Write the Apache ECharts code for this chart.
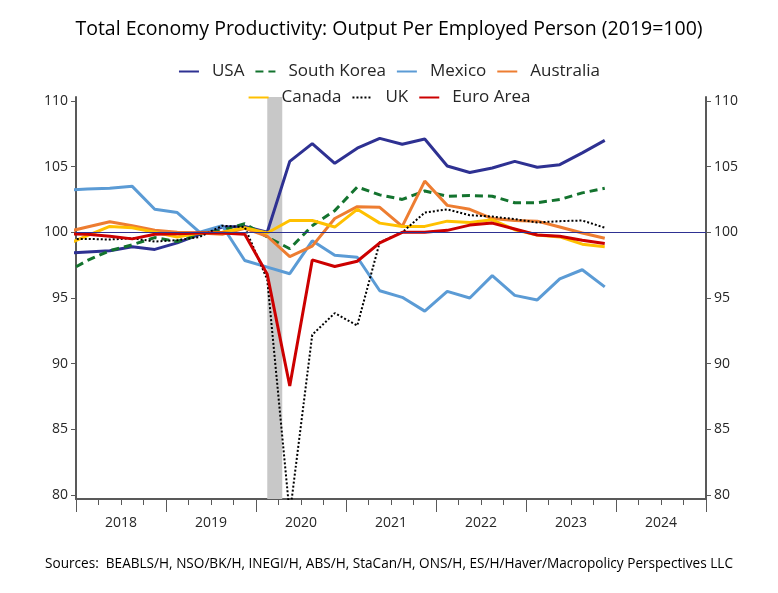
<!DOCTYPE html>
<html>
<head>
<meta charset="utf-8">
<script src="https://cdn.jsdelivr.net/npm/echarts@6/dist/echarts.min.js"></script>
<style>html,body{margin:0;padding:0;background:#fff;}#chart{width:778px;height:593px;}</style>
</head>
<body>
<div id="chart"></div>
<script>
// Quarterly observations (2017Q4 is partly visible, clipped at the left edge)
const quarters = ['2017Q4',
  '2018Q1','2018Q2','2018Q3','2018Q4',
  '2019Q1','2019Q2','2019Q3','2019Q4',
  '2020Q1','2020Q2','2020Q3','2020Q4',
  '2021Q1','2021Q2','2021Q3','2021Q4',
  '2022Q1','2022Q2','2022Q3','2022Q4',
  '2023Q1','2023Q2','2023Q3','2023Q4'];

const usa        = [98.4, 98.5, 98.6, 98.9, 98.7, 99.2, 99.85, 100.4, 100.45, 100.0, 105.4, 106.75, 105.25, 106.4, 107.15, 106.7, 107.1, 105.05, 104.55, 104.9, 105.4, 104.95, 105.15, 106.05, 107.0];
const southKorea = [96.9, 97.85, 98.6, 99.05, 99.6, 99.3, 99.85, 100.15, 100.65, 99.65, 98.75, 100.5, 101.65, 103.45, 102.85, 102.5, 103.15, 102.75, 102.8, 102.75, 102.25, 102.25, 102.5, 103.0, 103.35];
const mexico     = [103.2, 103.3, 103.35, 103.5, 101.75, 101.5, 100.0, 100.5, 97.85, 97.35, 96.85, 99.35, 98.25, 98.1, 95.55, 95.05, 94.0, 95.5, 95.0, 96.7, 95.2, 94.85, 96.45, 97.15, 95.85];
const australia  = [100.0, 100.4, 100.8, 100.5, 100.15, 100.0, 99.95, 99.85, 100.3, 99.7, 98.15, 98.95, 101.05, 101.95, 101.9, 100.45, 103.9, 102.05, 101.75, 101.05, 100.9, 100.85, 100.4, 99.95, 99.55];
const canada     = [99.0, 99.75, 100.45, 100.35, 100.0, 99.65, 99.95, 100.0, 100.35, 99.95, 100.9, 100.9, 100.4, 101.75, 100.7, 100.45, 100.45, 100.85, 100.75, 100.95, 100.2, 99.8, 99.65, 99.1, 98.9];
const uk         = [99.5, 99.5, 99.45, 99.55, 99.3, 99.4, 99.65, 100.5, 100.4, 96.4, 78.5, 92.2, 93.85, 92.9, 99.25, 100.0, 101.5, 101.75, 101.3, 101.2, 101.0, 100.75, 100.85, 100.9, 100.35];
const euroArea   = [99.9, 99.85, 99.7, 99.5, 99.85, 99.9, 99.95, 99.95, 99.85, 96.8, 88.3, 97.9, 97.4, 97.8, 99.2, 100.0, 100.0, 100.15, 100.55, 100.7, 100.25, 99.8, 99.7, 99.4, 99.15];

const yTicks = [80, 85, 90, 95, 100, 105, 110];
const years = [2018, 2019, 2020, 2021, 2022, 2023, 2024];
const recession = ['2020-02', '2020-04'];
const baseline = 100;

const title = 'Total Economy Productivity: Output Per Employed Person (2019=100)';
const source = 'Sources:  BEABLS/H, NSO/BK/H, INEGI/H, ABS/H, StaCan/H, ONS/H, ES/H/Haver/Macropolicy Perspectives LLC';

function qPos(q) { const y = +q.slice(0, 4), n = +q.slice(5); return y + (n - 0.5) / 4; }
function mPos(m) { const y = +m.slice(0, 4), n = +m.slice(5); return y + (n - 0.5) / 12; }
function pairs(vals) { return quarters.map((q, i) => [qPos(q), vals[i]]); }

const FONT = 'Open Sans';
const seriesDefs = [
  {name: 'USA', data: usa, color: '#2E3192', type: 'solid', width: 3},
  {name: 'South Korea', data: southKorea, color: '#13732E', type: [8, 5], width: 3},
  {name: 'Mexico', data: mexico, color: '#5B9BD5', type: 'solid', width: 3},
  {name: 'Australia', data: australia, color: '#ED7D31', type: 'solid', width: 3},
  {name: 'Canada', data: canada, color: '#FFC000', type: 'solid', width: 3},
  {name: 'UK', data: uk, color: '#000000', type: [2, 2], width: 2},
  {name: 'Euro Area', data: euroArea, color: '#CC0000', type: 'solid', width: 3}
];

const series = seriesDefs.map(s => ({
  name: s.name, type: 'line', data: pairs(s.data), showSymbol: false, symbol: 'none',
  clip: true, z: 3,
  lineStyle: {color: s.color, width: s.width, type: s.type},
  itemStyle: {color: s.color}
}));

series.unshift({
  name: 'shade', type: 'line', data: [], silent: true, z: 1,
  markArea: {silent: true, itemStyle: {color: '#C8C8C8'},
    data: [[{xAxis: mPos(recession[0])}, {xAxis: mPos(recession[1])}]]},
  markLine: {silent: true, symbol: 'none', label: {show: false},
    lineStyle: {color: '#2E3192', width: 1, type: 'solid'},
    data: [{yAxis: baseline}]}
});

const chart = echarts.init(document.getElementById('chart'), null, {renderer: 'canvas'});
const yAxisCommon = {
  type: 'value', min: 79.7, max: 110.3,
  splitLine: {show: false},
  axisLine: {show: true, lineStyle: {color: '#595959', width: 2}},
  axisTick: {show: true, customValues: yTicks, length: 5, lineStyle: {color: '#595959', width: 1}},
  axisLabel: {customValues: yTicks, color: '#262626', fontFamily: FONT, fontSize: 14, margin: 8}
};
const legendCommon = {
  left: 'center', itemWidth: 20, itemHeight: 12, itemGap: 10,
  itemStyle: {opacity: 0},
  textStyle: {fontFamily: FONT, fontSize: 17, color: '#262626', padding: [0, 0, 0, 8]}
};
chart.setOption({
  animation: false,
  textStyle: {fontFamily: FONT},
  title: [
    {text: title, left: 'center', top: 14, textStyle: {fontFamily: FONT, fontSize: 19.5, fontWeight: 'normal', color: '#000'}},
    {text: source, left: 'center', top: 552, textStyle: {fontFamily: FONT, fontSize: 13.6, fontWeight: 'normal', color: '#000'}}
  ],
  legend: [
    Object.assign({data: ['USA', 'South Korea', 'Mexico', 'Australia'], top: 58}, legendCommon),
    Object.assign({data: ['Canada', 'UK', 'Euro Area'], top: 84}, legendCommon)
  ],
  grid: {left: 76, right: 72, top: 97, bottom: 94, containLabel: false},
  xAxis: {
    type: 'value', min: years[0], max: years[years.length - 1] + 1, interval: 1,
    splitLine: {show: false},
    axisLine: {show: true, onZero: false, lineStyle: {color: '#595959', width: 2}},
    axisTick: {show: true, length: 13, lineStyle: {color: '#595959', width: 1}},
    minorTick: {show: true, splitNumber: 4, length: 6, lineStyle: {color: '#595959', width: 1}},
    axisLabel: {customValues: years.map(y => y + 0.5), formatter: v => String(Math.floor(v)),
      color: '#262626', fontFamily: FONT, fontSize: 14, margin: 17}
  },
  yAxis: [
    Object.assign({}, yAxisCommon, {position: 'left'}),
    Object.assign({}, yAxisCommon, {position: 'right'})
  ],
  series: series
});
</script>
</body>
</html>
